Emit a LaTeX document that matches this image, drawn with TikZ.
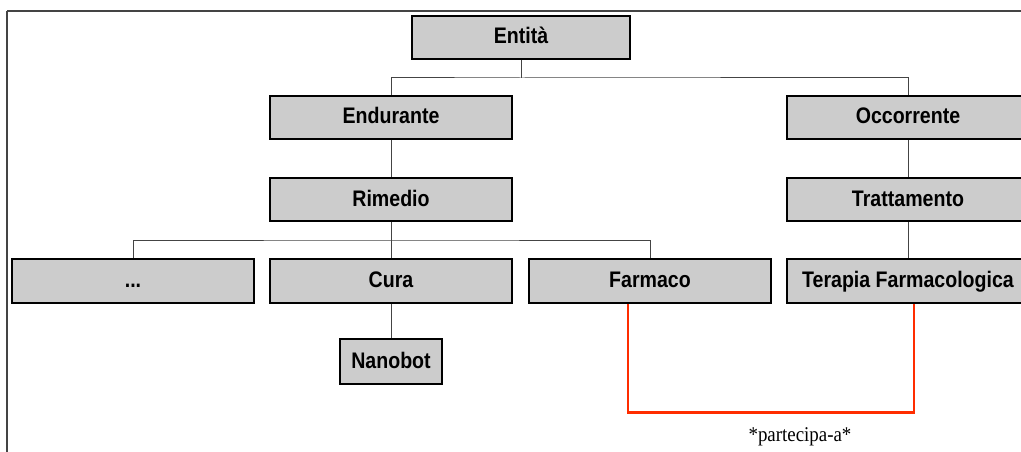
\documentclass[tikz,border=0pt]{standalone}
\usepackage{fontspec}
\newfontfamily\boxfont{Liberation Sans}[FakeStretch=0.87]
\newfontfamily\lblfont{Liberation Serif}[FakeStretch=0.9]
\definecolor{boxgray}{HTML}{CCCCCC}
\definecolor{linegray}{HTML}{444444}
\definecolor{relred}{RGB}{255,45,0}
\tikzset{
  cls/.style={draw=black, line width=2.9pt, fill=boxgray, inner sep=0pt,
    minimum width=242pt, minimum height=43pt, text height=16pt, text depth=3pt,
    font=\boxfont\bfseries\fontsize{22.5}{25}\selectfont},
  conn/.style={draw=linegray, line width=1pt},
  relline/.style={draw=relred, line width=2.2pt},
  frameline/.style={draw=linegray, line width=1.2pt}
}
\begin{document}
\begin{tikzpicture}[x=1pt,y=-1pt]
\useasboundingbox (0,0) rectangle (1021,452);
\clip (0,0) rectangle (1021,452);
\fill[white] (0,0) rectangle (1021,452);
% frame
\draw[frameline] (7,11) -- (1030,11);
\draw[draw=linegray, line width=2pt] (7,460) -- (7,11);
% nodes
\node[cls, minimum width=218pt] (ent) at (521,37.5) {Entità};
\node[cls] (end) at (391,117.5) {Endurante};
\node[cls] (occ) at (908,117.5) {Occorrente};
\node[cls] (rim) at (391,199.5) {Rimedio};
\node[cls] (tra) at (908,199.5) {Trattamento};
\node[cls, minimum height=44pt] (dots) at (133,281) {...};
\node[cls, minimum height=44pt] (cura) at (391,281) {Cura};
\node[cls, minimum height=44pt] (far) at (650,281) {Farmaco};
\node[cls, minimum height=44pt] (ter) at (908,281) {Terapia Farmacologica};
\node[cls, minimum width=102pt, minimum height=45pt] (nano) at (391,361.5) {Nanobot};
% connectors
\coordinate (j1) at (521,78);
\coordinate (j2) at (391,240);
\draw[conn] (ent.south) -- (j1);
\draw[conn] (end.north) |- (j1) -| (occ.north);
\draw[conn] (end.south) -- (rim.north);
\draw[conn] (occ.south) -- (tra.north);
\draw[conn] (tra.south) -- (ter.north);
\draw[conn] (rim.south) -- (cura.north);
\draw[conn] (dots.north) |- (j2) -| (far.north);
\draw[conn] (cura.south) -- (nano.north);
% relation
\coordinate (rb) at (770,412.5);
\draw[relline] ([xshift=-22pt]far.south) |- ([xshift=6pt]ter.south |- rb) -- ([xshift=6pt]ter.south);
\node[font=\lblfont\fontsize{21}{23}\selectfont, inner sep=0pt] (lbl) at (800,437) {*partecipa-a*};
\end{tikzpicture}
\end{document}
